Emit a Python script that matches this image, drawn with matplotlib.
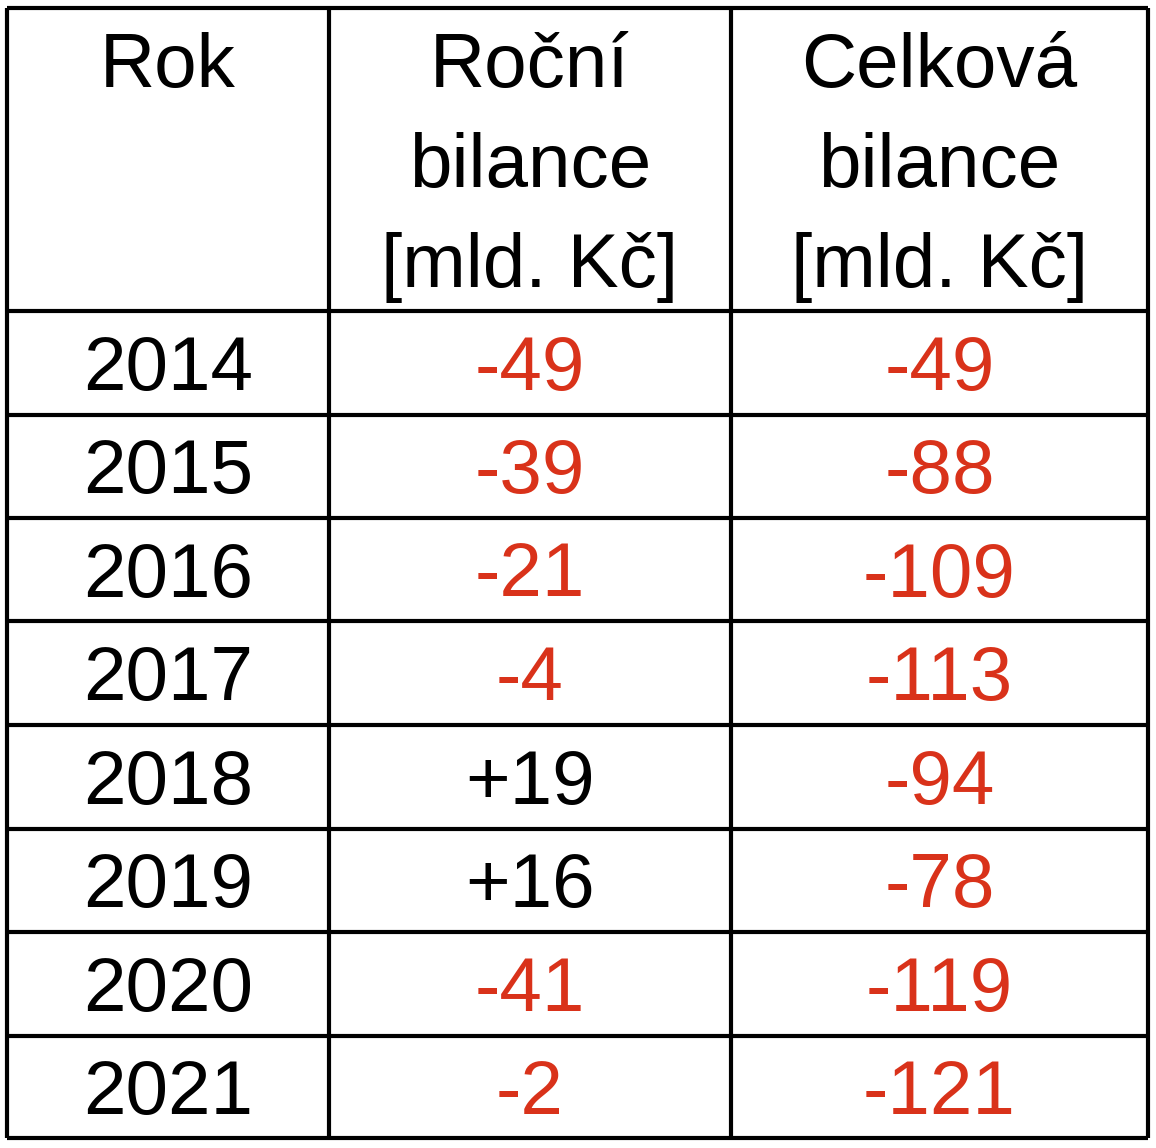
import matplotlib.pyplot as plt

# table content
years = ["2014", "2015", "2016", "2017", "2018", "2019", "2020", "2021"]
annual = [-49, -39, -21, -4, 19, 16, -41, -2]
total = [-49, -88, -109, -113, -94, -78, -119, -121]
headers = ["Rok", "Roční\nbilance\n[mld. Kč]", "Celková\nbilance\n[mld. Kč]"]

red = "#D9321A"

# grid geometry in pixels
col_edges = [7, 329, 731, 1148]
row_edges = [8, 311, 415, 518, 621, 725, 829, 932, 1036, 1138]

W, H = 1156, 1148
fig = plt.figure(figsize=(W / 100, H / 100), dpi=100)
ax = fig.add_axes([0, 0, 1, 1])
ax.set_xlim(0, W)
ax.set_ylim(H, 0)
ax.axis("off")

plt.rcParams["font.family"] = ["Liberation Sans", "DejaVu Sans"]
fs = 55

# grid lines
ax.hlines(row_edges, col_edges[0], col_edges[-1], color="black", linewidth=3)
ax.vlines(col_edges, row_edges[0], row_edges[-1], color="black", linewidth=3)

col_centers = [(col_edges[i] + col_edges[i + 1]) / 2 for i in range(3)]


def fmt(v):
    return f"+{v}" if v > 0 else str(v)


def color_of(v):
    return red if v < 0 else "black"


# header
for cx, head in zip(col_centers, headers):
    for k, line in enumerate(head.split("\n")):
        ax.text(cx, 87 + k * 100, line, ha="center", va="baseline",
                fontsize=fs, color="black")

# body rows
for i, (yr, a, t) in enumerate(zip(years, annual, total)):
    yb = (row_edges[i + 1] + row_edges[i + 2]) / 2 + 27
    ax.text(col_centers[0], yb, yr, ha="center", va="baseline", fontsize=fs)
    ax.text(col_centers[1], yb, fmt(a), ha="center", va="baseline",
            fontsize=fs, color=color_of(a))
    ax.text(col_centers[2], yb, fmt(t), ha="center", va="baseline",
            fontsize=fs, color=color_of(t))

fig.savefig("out.png", dpi=100, facecolor="white")
